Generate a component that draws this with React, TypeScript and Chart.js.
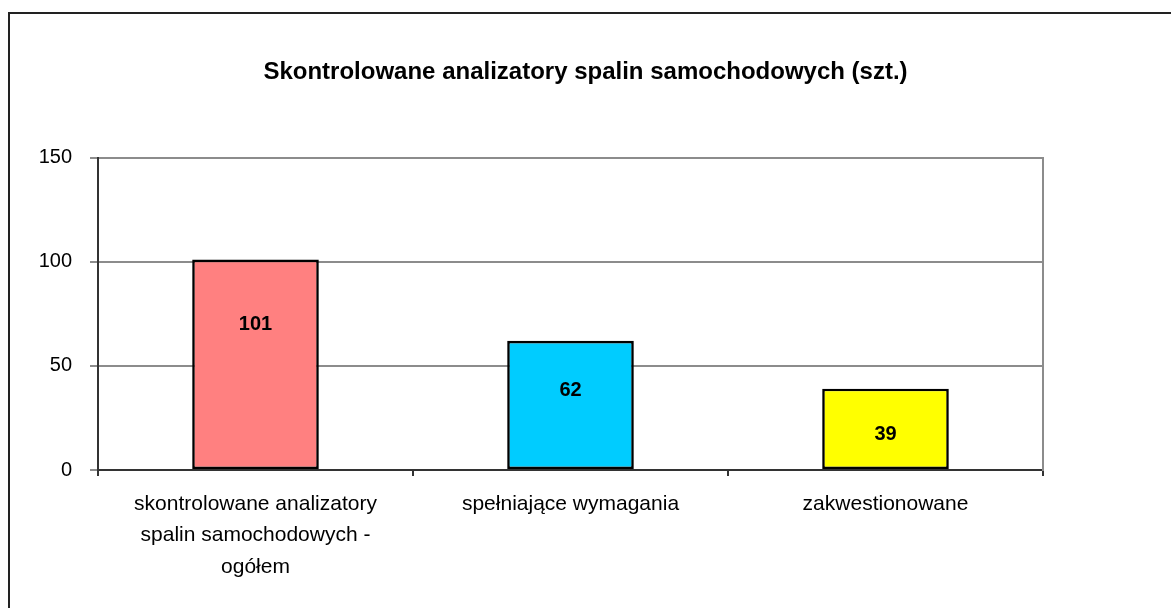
import React, { useEffect, useRef } from "react";
import { Chart, registerables } from "chart.js";

Chart.register(...registerables);

const TITLE = "Skontrolowane analizatory spalin samochodowych (szt.)";
const categories: string[][] = [
  ["skontrolowane analizatory", "spalin samochodowych -", "ogółem"],
  ["spełniające wymagania"],
  ["zakwestionowane"],
];
const values: number[] = [101, 62, 39];
const barColors: string[] = ["#FF8080", "#00CCFF", "#FFFF00"];
// vertical position (in axis units) of each value label inside its bar
const labelPos: number[] = [70.0, 38.0, 17.0];
const yTicks = { min: 0, max: 150, step: 50 };

const FONT = "'Liberation Sans', Arial, sans-serif";

const framePlugin = {
  id: "frame",
  beforeDraw(chart: any) {
    const { ctx } = chart;
    ctx.save();
    ctx.fillStyle = "#fff";
    ctx.fillRect(0, 0, chart.width, chart.height);
    ctx.strokeStyle = "#222";
    ctx.lineWidth = 2;
    ctx.strokeRect(9, 13, 1170, 700);
    ctx.restore();
  },
};

const valueLabelPlugin = {
  id: "valueLabels",
  afterDatasetsDraw(chart: any) {
    const { ctx } = chart;
    const meta = chart.getDatasetMeta(0);
    const yScale = chart.scales.y;
    ctx.save();
    ctx.font = `bold 20px ${FONT}`;
    ctx.fillStyle = "#000";
    ctx.textAlign = "center";
    ctx.textBaseline = "middle";
    meta.data.forEach((bar: any, i: number) => {
      ctx.fillText(String(values[i]), bar.x, yScale.getPixelForValue(labelPos[i]));
    });
    ctx.restore();
  },
};

export default function App() {
  const ref = useRef<HTMLCanvasElement>(null);

  useEffect(() => {
    if (!ref.current) return;
    Chart.defaults.font.family = FONT;
    Chart.defaults.color = "#000";
    const chart = new Chart(ref.current, {
      type: "bar",
      data: {
        labels: categories,
        datasets: [
          {
            data: values,
            backgroundColor: barColors,
            borderColor: "#000",
            borderWidth: 2.6,
            borderSkipped: false,
            barPercentage: 0.402,
            categoryPercentage: 1.0,
          },
        ],
      },
      options: {
        responsive: false,
        animation: false,
        layout: { padding: { left: 0, right: 0, top: 0, bottom: 25.5 } },
        plugins: {
          legend: { display: false },
          tooltip: { enabled: false },
          title: {
            display: true,
            text: TITLE,
            color: "#000",
            font: { size: 24, weight: "bold", family: FONT, lineHeight: 1.2 },
            padding: { top: 58, bottom: 70.7 },
          },
        },
        scales: {
          x: {
            offset: true,
            grid: {
              offset: true,
              drawOnChartArea: false,
              drawTicks: true,
              tickLength: 6,
              color: "#333",
              lineWidth: 2,
            },
            border: { display: true, color: "#333", width: 2 },
            ticks: {
              color: "#000",
              font: { size: 21, family: FONT, lineHeight: 1.5 },
              padding: 12,
              maxRotation: 0,
              minRotation: 0,
              autoSkip: false,
            },
            afterFit(scale: any) {
              scale.height = 112.5;
            },
          },
          y: {
            min: yTicks.min,
            max: yTicks.max,
            grid: {
              color: "#8c8c8c",
              lineWidth: 2,
              tickLength: 8,
              drawTicks: true,
            },
            border: { display: true, color: "#333", width: 2 },
            ticks: {
              stepSize: yTicks.step,
              color: "#000",
              font: { size: 20, family: FONT },
              padding: 18,
            },
            afterFit(scale: any) {
              scale.width = 98;
            },
          },
          yRight: {
            position: "right",
            min: yTicks.min,
            max: yTicks.max,
            grid: { drawOnChartArea: false, drawTicks: false },
            border: { display: true, color: "#8c8c8c", width: 2 },
            ticks: { display: false },
            afterFit(scale: any) {
              scale.width = 128;
            },
          },
        },
      },
      plugins: [framePlugin, valueLabelPlugin],
    });
    return () => chart.destroy();
  }, []);

  return (
    <div style={{ position: "fixed", left: 0, top: 0, width: 1171, height: 608 }}>
      <canvas ref={ref} width={1171} height={608} />
    </div>
  );
}
